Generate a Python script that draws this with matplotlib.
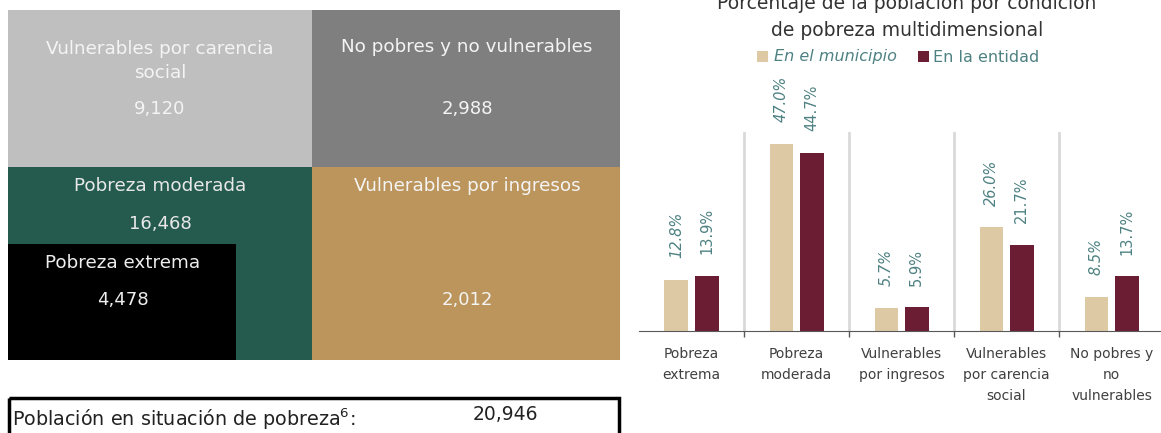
import matplotlib.pyplot as plt
from matplotlib.patches import Rectangle
import numpy as np

# treemap data (población por condición de pobreza)
treemap_labels = ["Vulnerables por carencia\nsocial", "No pobres y no vulnerables",
                  "Pobreza moderada", "Vulnerables por ingresos", "Pobreza extrema"]
treemap_values = [9120, 2988, 16468, 2012, 4478]
poverty_total = 20946

# bar chart data
categories = ["Pobreza\nextrema", "Pobreza\nmoderada", "Vulnerables\npor ingresos",
              "Vulnerables\npor carencia\nsocial", "No pobres y\nno\nvulnerables"]
municipio = [12.8, 47.0, 5.7, 26.0, 8.5]
entidad = [13.9, 44.7, 5.9, 21.7, 13.7]

# layout of the treemap cells in pixels: x, y, w, h, fill, text colour, label y, value y, text x
cell_layout = [
    (8, 10, 304, 157, "#bfbfbf", "#f4f4f4", 61, 109, 160),
    (312, 10, 308, 157, "#7f7f7f", "#f4f4f4", 47, 109, 467),
    (8, 167, 304, 193, "#245b4e", "#e8e8e8", 186, 224, 160),
    (312, 167, 308, 193, "#bc955c", "#f4f4f4", 186, 300, 467),
    (8, 244, 228, 116, "#000000", "#eeeeee", 263, 300, 123),
]

W, H = 1161, 433
fig = plt.figure(figsize=(W / 100, H / 100), dpi=100)

# left panel in pixel coordinates
ax = fig.add_axes([0, 0, 1, 1])
ax.set_xlim(0, W)
ax.set_ylim(H, 0)
ax.axis("off")

for (x, y, w, h, fc, tc, ly, vy, tx), lab, val in zip(cell_layout, treemap_labels, treemap_values):
    ax.add_patch(Rectangle((x, y), w, h, facecolor=fc, edgecolor="none"))
    ax.text(tx, ly, lab, color=tc, fontsize=13.2, ha="center", va="center", linespacing=1.5)
    ax.text(tx, vy, f"{val:,}", color=tc, fontsize=13, ha="center", va="center")

ax.add_patch(Rectangle((9, 398), 610, 60, facecolor="none", edgecolor="black", lw=2.5))
ax.text(12, 419, "Población en situación de pobreza$^{6}$:", fontsize=13.8, color="#222222",
        ha="left", va="center")
ax.text(505, 414, f"{poverty_total:,}", fontsize=13.5, color="#222222", ha="center", va="center")

# right panel: bar chart
x0, x1, ybase, ytop = 639, 1161, 331, 80
bx = fig.add_axes([x0 / W, 1 - ybase / H, (x1 - x0) / W, (ybase - ytop) / H])
bx.patch.set_alpha(0)
pos = np.arange(len(categories))
bw = 0.225
c_mun, c_ent, c_txt = "#ddc9a3", "#6b1d33", "#4e8182"
bx.bar(pos - 0.145, municipio, bw, color=c_mun)
bx.bar(pos + 0.145, entidad, bw, color=c_ent)
for p, m, e in zip(pos, municipio, entidad):
    bx.text(p - 0.145, m + 5.5, f"{m:.1f}%", rotation=90, ha="center", va="bottom",
            fontsize=10.5, color=c_txt, style="italic")
    bx.text(p + 0.145, e + 5.5, f"{e:.1f}%", rotation=90, ha="center", va="bottom",
            fontsize=10.5, color=c_txt)
for s in pos[:-1] + 0.5:
    bx.plot([s, s], [0, 49.7], color="#d9d9d9", lw=2, zorder=0)
bx.set_xlim(-0.5, 4.47)
bx.set_ylim(0, 63)
bx.set_yticks([])
bx.set_xticks(pos[:-1] + 0.5, minor=False)
bx.set_xticklabels([])
bx.tick_params(axis="x", length=4, color="#595959", width=1)
for p, lab in zip(pos, categories):
    bx.text(p, -4, lab, ha="center", va="top", fontsize=10, color="#404040", linespacing=1.65)
for k in ["left", "right", "top"]:
    bx.spines[k].set_visible(False)
bx.spines["bottom"].set_color("#595959")

fig.text(907 / W, 1 - 3 / H, "Porcentaje de la población por condición", ha="center", va="center",
         fontsize=13.5, color="#333333")
fig.text(907 / W, 1 - 30 / H, "de pobreza multidimensional", ha="center", va="center",
         fontsize=13.5, color="#333333")
ax.add_patch(Rectangle((757, 51), 11, 11, facecolor=c_mun))
ax.text(774, 57, "En el municipio", fontsize=11.5, color=c_txt, style="italic", va="center")
ax.add_patch(Rectangle((918, 51), 11, 11, facecolor=c_ent))
ax.text(933, 57, "En la entidad", fontsize=11.5, color=c_txt, va="center")

fig.savefig("out.png", dpi=100)
